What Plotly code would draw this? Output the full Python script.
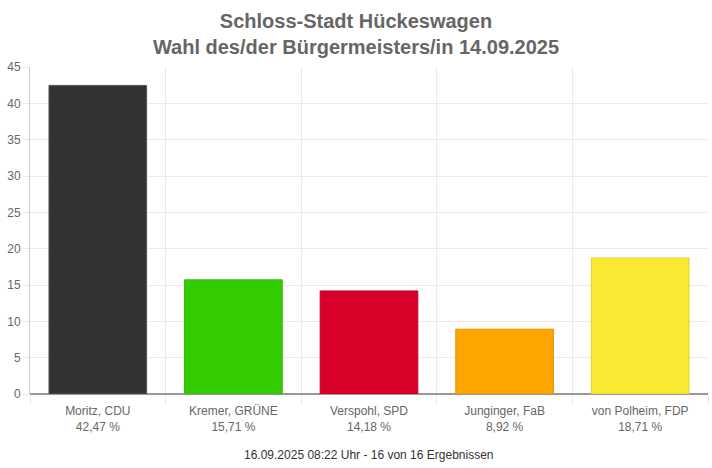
import plotly.graph_objects as go

candidates = ["Moritz, CDU", "Kremer, GRÜNE", "Verspohl, SPD", "Junginger, FaB", "von Polheim, FDP"]
percent = [42.47, 15.71, 14.18, 8.92, 18.71]
colors = ["#333333", "#33cc00", "#d9002a", "#ffa500", "#f9e933"]
borders = ["#555555", "#2fb800", "#c00025", "#e59400", "#e0d12e"]
yticks = [0, 5, 10, 15, 20, 25, 30, 35, 40, 45]

def fmt(v):
    return f"{v:.2f}".replace(".", ",") + " %"

labels = [f"{c}<br>{fmt(v)}" for c, v in zip(candidates, percent)]
pos = list(range(len(candidates)))

fig = go.Figure()
fig.add_trace(go.Bar(
    x=pos, y=percent, width=0.72,
    marker=dict(color=colors, line=dict(color=borders, width=1)),
    hoverinfo="skip",
))
# invisible trace for the category-boundary grid axis
fig.add_trace(go.Scatter(x=[-0.5, len(pos) - 0.5], y=[0, 0], xaxis="x2",
                         mode="lines", line=dict(width=0), hoverinfo="skip", showlegend=False))

fig.update_layout(
    width=712, height=468,
    margin=dict(l=30, r=4, t=67, b=74),
    paper_bgcolor="white", plot_bgcolor="white",
    showlegend=False,
    font=dict(family="Liberation Sans, Arial, sans-serif", color="#666666", size=12),
    title=dict(
        text="Schloss-Stadt Hückeswagen<br>Wahl des/der Bürgermeisters/in 14.09.2025",
        x=0.5, xanchor="center", y=1 - 27.5 / 468, yanchor="middle",
        font=dict(size=20, color="#666666", family="Liberation Sans, Arial, sans-serif", weight="bold"),
        automargin=False,
    ),
    xaxis=dict(
        range=[-0.5, len(pos) - 0.5], tickvals=pos, ticktext=labels,
        showgrid=False, zeroline=False, showline=False, ticks="",
        ticklabelstandoff=8,
        tickfont=dict(size=12, color="#666666"), automargin=False,
    ),
    xaxis2=dict(
        overlaying="x", range=[-0.5, len(pos) - 0.5],
        tickvals=[p - 0.5 for p in pos] + [len(pos) - 0.5],
        showticklabels=False, showgrid=True, gridcolor="#ebebeb", gridwidth=1,
        ticks="outside", ticklen=10, tickcolor="#ebebeb", side="bottom",
        zeroline=False, showline=False, automargin=False,
    ),
    yaxis=dict(
        range=[0, 45], tickvals=yticks, showgrid=True, gridcolor="#ebebeb",
        ticks="outside", ticklen=6, tickcolor="#ebebeb",
        showline=True, linecolor="#cccccc", linewidth=1,
        zeroline=True, zerolinecolor="#999999", zerolinewidth=1.5,
        tickfont=dict(size=12, color="#666666"), automargin=False,
    ),
)
fig.add_annotation(
    text="16.09.2025 08:22 Uhr - 16 von 16 Ergebnissen",
    xref="paper", yref="paper", x=(369 - 30) / 678, y=(394 - 455) / 327, yanchor="middle",
    showarrow=False, font=dict(size=12, color="#333333"),
)
fig.write_html("out.html", config={"displayModeBar": False},
               post_script="document.body.style.margin='0';document.body.style.overflow='hidden';")
